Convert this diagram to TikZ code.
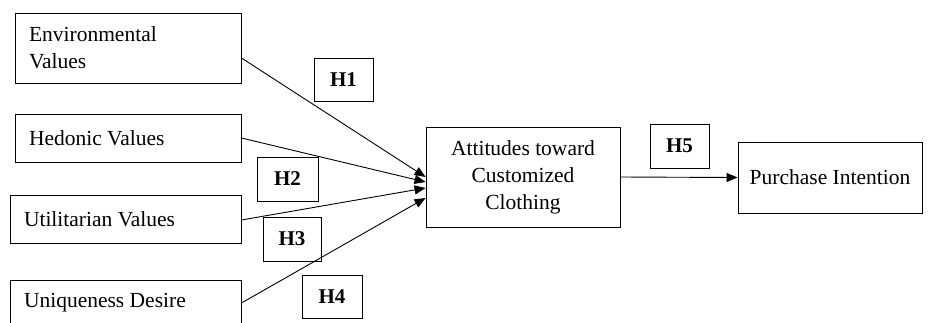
\documentclass[tikz,border=0pt]{standalone}
\usepackage{fontspec}
\setmainfont{Liberation Serif}
\usetikzlibrary{arrows.meta}
\begin{document}
\begin{tikzpicture}[x=1pt,y=-1pt,
  box/.style={draw, line width=0.9pt, inner xsep=0pt, inner ysep=0pt, font=\fontsize{21.5}{27}\selectfont},
  leftbox/.style={box, align=flush left, inner xsep=14pt},
  hbox/.style={draw, line width=0.9pt, inner sep=0pt, font=\fontsize{21}{25}\selectfont\bfseries},
  conn/.style={line width=0.9pt, -{Triangle[length=11pt,width=9pt]}}]
\clip (0,0) rectangle (946,322);
\useasboundingbox (0,0) rectangle (946,322);
% left boxes
\node[leftbox, text width=198pt, minimum height=70pt] (env) at (128,48) {Environmental\\Values};
\node[leftbox, text width=198pt, minimum height=48pt] (hed) at (128,138) {Hedonic Values};
\node[leftbox, text width=203pt, minimum height=48pt] (uti) at (125.5,219) {Utilitarian Values};
\node[leftbox, text width=203pt, minimum height=46pt] (uni) at (125.5,303) {Uniqueness Desire};
% middle and right
\node[box, align=center, minimum width=194pt, minimum height=100pt] (att) at (523,177) {Attitudes toward\\Customized\\Clothing};
\node[box, minimum width=184pt, minimum height=71pt] (pur) at (830,177.5) {Purchase Intention};
% hypothesis labels
\node[hbox, minimum width=59pt, minimum height=43pt] (h1) at (343.5,79.5) {H1};
\node[hbox, minimum width=61pt, minimum height=44pt] (h2) at (287.5,179) {H2};
\node[hbox, minimum width=58pt, minimum height=44pt] (h3) at (292,239) {H3};
\node[hbox, minimum width=60pt, minimum height=43pt] (h4) at (332,296.5) {H4};
\node[hbox, minimum width=59pt, minimum height=44pt] (h5) at (679.5,146) {H5};
% connectors
\draw[conn] ([yshift=-10pt]env.east) -- ([yshift=0pt]att.west);
\draw[conn] (hed.east) -- ([yshift=-5pt]att.west);
\draw[conn] ([yshift=-1pt]uti.east) -- ([yshift=-11pt]att.west);
\draw[conn] (uni.east) -- ([yshift=-21pt]att.west);
\draw[conn] (att.east) -- (pur.west);
\end{tikzpicture}
\end{document}
